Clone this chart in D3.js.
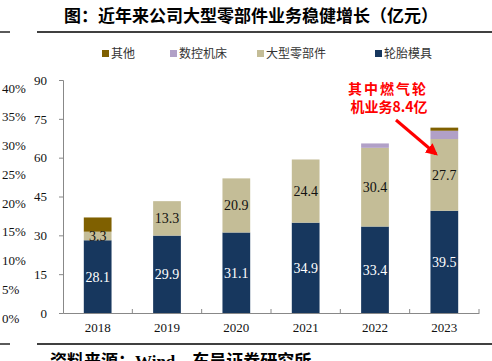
<!DOCTYPE html>
<html>
<head>
<meta charset="utf-8">
<script src="https://cdn.jsdelivr.net/npm/d3@7"></script>
<style>
  body { margin: 0; background: #fff; }
  svg { display: block; }
  text { font-family: "Liberation Serif", "Noto Sans CJK SC", serif; }
  .cjk { font-family: "Noto Sans CJK SC", sans-serif; }
</style>
</head>
<body>
<div id="chart"></div>
<script>
// data
const years = ["2018", "2019", "2020", "2021", "2022", "2023"];
const tire = [28.1, 29.9, 31.1, 34.9, 33.4, 39.5];      // 轮胎模具
const parts = [3.3, 13.3, 20.9, 24.4, 30.4, 27.7];      // 大型零部件
const cnc = [0, 0, 0, 0, 1.7, 3.2];                     // 数控机床
const other = [5.5, 0, 0, 0, 0, 1.2];                   // 其他
const yTicks = [0, 15, 30, 45, 60, 75, 90];
const pctTicks = [0, 5, 10, 15, 20, 25, 30, 35, 40];
const seriesNames = ["轮胎模具", "大型零部件", "数控机床", "其他"];
const legendOrder = ["其他", "数控机床", "大型零部件", "轮胎模具"];

const W = 492, H = 361;
const margin = { top: 80, right: 13, bottom: 48, left: 63 };
const width = W - margin.left - margin.right;
const height = H - margin.top - margin.bottom;

const color = d3.scaleOrdinal()
    .domain(seriesNames)
    .range(["#17375E", "#C4BD97", "#B1A0C7", "#7F6000"]);

const svgRoot = d3.select("#chart").append("svg")
    .attr("width", W).attr("height", H);

// 标题和分隔线
svgRoot.append("text")
    .attr("x", 251).attr("y", 22)
    .attr("text-anchor", "middle")
    .attr("class", "cjk")
    .style("font-size", "17px").style("font-weight", "bold")
    .style("font-family", "'Noto Sans CJK SC', serif")
    .text("图：近年来公司大型零部件业务稳健增长（亿元）");
[[0, 10, 32], [37, 492, 32], [0, 10, 344], [37, 492, 344]].forEach(l => {
    svgRoot.append("line")
        .attr("x1", l[0]).attr("x2", l[1]).attr("y1", l[2]).attr("y2", l[2])
        .attr("stroke", "#000").attr("stroke-width", 1.3);
});
svgRoot.append("text")
    .attr("x", 50).attr("y", 367)
    .style("font-size", "17px").style("font-weight", "bold")
    .text("资料来源：Wind，东吴证券研究所");

// 图例
const legendX = [102, 170, 257, 375];
legendOrder.forEach((name, i) => {
    svgRoot.append("rect")
        .attr("x", legendX[i]).attr("y", 50)
        .attr("width", 7).attr("height", 7)
        .attr("fill", color(name));
    svgRoot.append("text")
        .attr("x", legendX[i] + 9).attr("y", 58)
        .attr("class", "cjk")
        .style("font-size", "12px").attr("fill", "#333")
        .text(name);
});

const svg = svgRoot.append("g")
    .attr("transform", `translate(${margin.left},${margin.top})`);

const x = d3.scaleBand().domain(years).range([0, width]).paddingInner(0.6).paddingOuter(0.3);
const xb = d3.scaleBand().domain(years).range([0, width]);
const y = d3.scaleLinear().domain([0, 90]).range([height, 0]);

// 堆叠
const table = years.map((yr, i) => ({
    year: yr, "轮胎模具": tire[i], "大型零部件": parts[i], "数控机床": cnc[i], "其他": other[i]
}));
const stack = d3.stack().keys(seriesNames)(table);

stack.forEach(layer => {
    svg.selectAll(null).data(layer).enter().append("rect")
        .attr("x", d => x(d.data.year))
        .attr("width", x.bandwidth())
        .attr("y", d => y(d[1]))
        .attr("height", d => y(d[0]) - y(d[1]))
        .attr("fill", color(layer.key));
});

// 数据标签
[["轮胎模具", "#fff"], ["大型零部件", "#111"]].forEach(([key, fill]) => {
    const layer = stack.find(s => s.key === key);
    svg.selectAll(null).data(layer).enter().append("text")
        .attr("x", d => x(d.data.year) + x.bandwidth() / 2)
        .attr("y", d => (y(d[0]) + y(d[1])) / 2)
        .attr("dy", "0.35em")
        .attr("text-anchor", "middle")
        .style("font-size", "14px")
        .style("font-family", "'Liberation Serif', serif")
        .attr("fill", fill)
        .text(d => d3.format(".1f")(d.data[key]));
});

// Y 轴
const yAxis = svg.append("g")
    .call(d3.axisLeft(y).tickValues(yTicks).tickSize(4).tickPadding(12));
yAxis.select(".domain").attr("stroke", "#888");
yAxis.selectAll(".tick line").attr("stroke", "#888");
yAxis.selectAll("text").style("font-size", "13px").style("font-family", "'Liberation Serif', serif").attr("fill", "#111");

// X 轴
const xAxis = svg.append("g")
    .attr("transform", `translate(0,${height})`)
    .call(d3.axisBottom(xb).tickSize(0).tickPadding(10));
xAxis.select(".domain").attr("stroke", "#888");
xAxis.selectAll("text").style("font-size", "13px").style("font-family", "'Liberation Serif', serif").attr("fill", "#111");
// 类别间刻度
svg.selectAll(null).data(years.slice(1).concat(["end"])).enter().append("line")
    .attr("x1", (d, i) => xb.step() * (i + 1)).attr("x2", (d, i) => xb.step() * (i + 1))
    .attr("y1", height).attr("y2", height - 4)
    .attr("stroke", "#888");

// 左侧百分比标签
const yp = d3.scaleLinear().domain([0, 40]).range([318, 88]);
svgRoot.append("g").selectAll("text").data(pctTicks).enter().append("text")
    .attr("x", 2).attr("y", d => yp(d)).attr("dy", "0.35em")
    .style("font-size", "13px").style("font-family", "'Liberation Serif', serif")
    .attr("fill", "#111")
    .text(d => d + "%");

// 注释
const ann = svgRoot.append("g").attr("fill", "#FF0000")
    .style("font-size", "14px").style("font-weight", "bold");
ann.append("text").attr("x", 388).attr("y", 94).attr("text-anchor", "middle")
    .style("letter-spacing", "2px")
    .style("font-family", "'Noto Sans CJK SC', serif").text("其中燃气轮");
ann.append("text").attr("x", 389).attr("y", 112).attr("text-anchor", "middle")
    .style("font-family", "'Noto Sans CJK SC', serif").text("机业务8.4亿");

svgRoot.append("defs").append("marker")
    .attr("id", "arrow").attr("viewBox", "0 0 10 10")
    .attr("refX", 8).attr("refY", 5)
    .attr("markerWidth", 4).attr("markerHeight", 4)
    .attr("orient", "auto")
    .append("path").attr("d", "M0,0L10,5L0,10z").attr("fill", "#FF0000");
svgRoot.append("line")
    .attr("x1", 396).attr("y1", 120).attr("x2", 436).attr("y2", 154)
    .attr("stroke", "#FF0000").attr("stroke-width", 3)
    .attr("marker-end", "url(#arrow)");
</script>
</body>
</html>
